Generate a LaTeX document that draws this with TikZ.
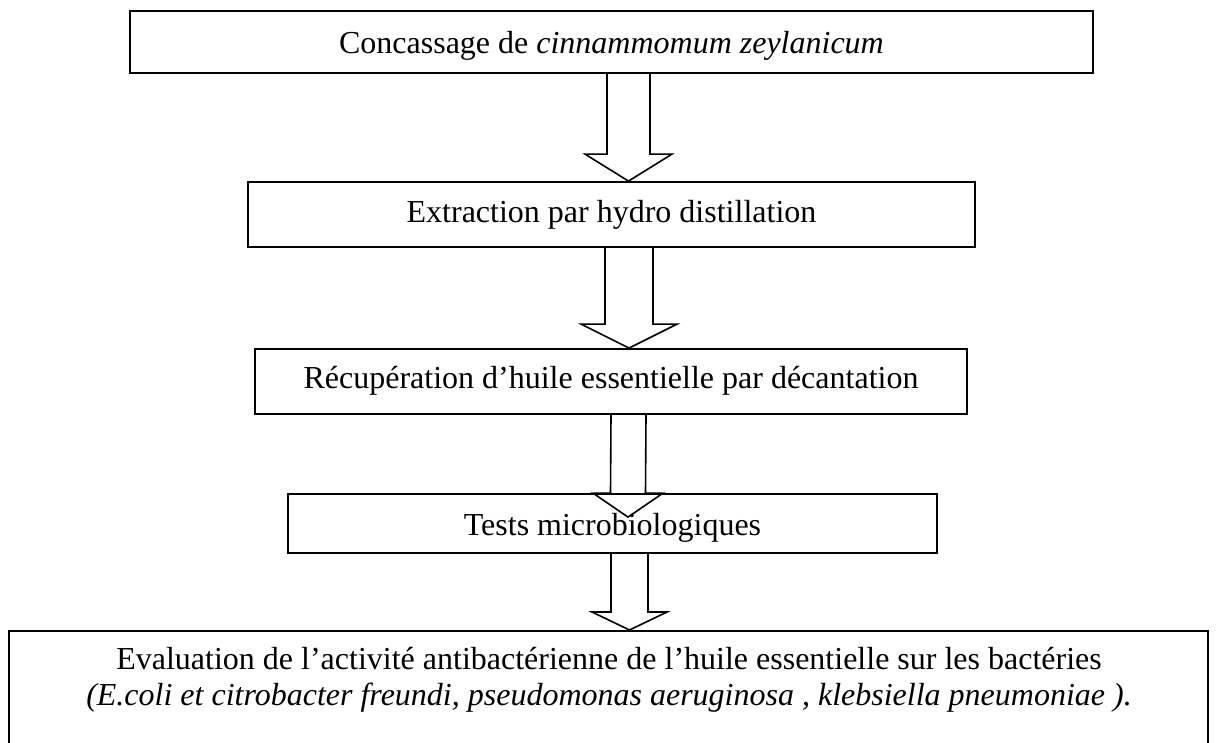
\documentclass[tikz,border=0pt]{standalone}
\usepackage{fontspec}
\setmainfont{Liberation Serif}
\usetikzlibrary{calc}
\tikzset{
  stepbox/.style={draw=black, line width=1.8pt, rectangle, inner sep=0pt,
    font=\fontsize{32}{36}\selectfont},
  arrowline/.style={draw=black, line width=1.6pt, line join=miter},
  txt/.style={font=\fontsize{32}{36}\selectfont, align=center, inner sep=0pt}
}
% block arrow: from, to, shaft half-width, head half-width, head length
\newcommand{\blockarrow}[5]{%
  \draw[arrowline] ($(#1)+(-#3,0)$) -- ($(#2)+(-#3,#5)$) -- ($(#2)+(-#4,#5)$) -- (#2)
    -- ($(#2)+(#4,#5)$) -- ($(#2)+(#3,#5)$) -- ($(#1)+(#3,0)$);}
\begin{document}
\begin{tikzpicture}[x=1pt,y=1pt]
\useasboundingbox (0,0) rectangle (1218,-742);
\fill[white] (0,0) rectangle (1218,-742);

\node[stepbox, minimum width=963pt, minimum height=62pt, text height=26pt, text depth=4pt] (b1) at (611.5,-42)
  {Concassage de \textit{cinnammomum zeylanicum}};
\node[stepbox, minimum width=727pt, minimum height=65pt, text height=22.5pt, text depth=7.5pt] (b2) at (611.5,-214.5)
  {Extraction par hydro distillation};
\node[stepbox, minimum width=712pt, minimum height=65pt, text height=21.5pt, text depth=8.5pt] (b3) at (611,-381.5)
  {Récupération d’huile essentielle par décantation};
\node[stepbox, minimum width=649pt, minimum height=59pt, text height=26.5pt, text depth=3.5pt] (b4) at (612.5,-523.5)
  {Tests microbiologiques};
\node[stepbox, minimum width=1199pt, minimum height=140pt, anchor=north] (b5) at (608.5,-630) {};
\node[txt, anchor=base] (t5) at (609,-705)
  {Evaluation de l’activité antibactérienne de l’huile essentielle sur les bactéries\\
   \textit{(E.coli et citrobacter freundi, pseudomonas aeruginosa , klebsiella pneumoniae ).}};

\path (b1.south) ++(17,0) coordinate (a1s);
\path (b2.north) ++(17,0) coordinate (a1e);
\path (b2.south) ++(17.5,0) coordinate (a2s);
\path (b3.north) ++(18,0) coordinate (a2e);
\path (b3.south) ++(17.5,0) coordinate (a3s);
\path (b4.north) ++(15.5,-24) coordinate (a3e);
\path (b4.south) ++(17,0) coordinate (a4s);
\path (b5.north) ++(21,0) coordinate (a4e);

\blockarrow{a1s}{a1e}{21.5}{43.5}{27}
\blockarrow{a2s}{a2e}{24}{48}{24}
\blockarrow{a3s}{a3e}{17.5}{35}{24}
\blockarrow{a4s}{a4e}{18.5}{37.5}{18}
\end{tikzpicture}
\end{document}
